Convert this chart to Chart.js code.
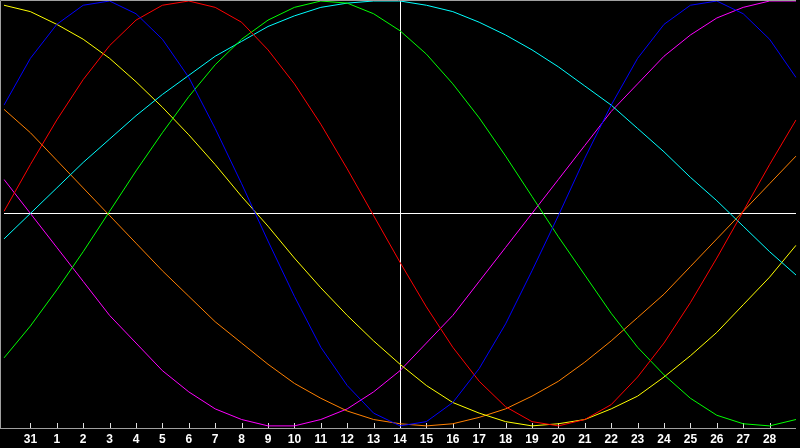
<!DOCTYPE html>
<html>
<head>
<meta charset="utf-8">
<script src="https://cdn.jsdelivr.net/npm/chart.js@4/dist/chart.umd.min.js"></script>
<style>
  html, body { margin: 0; padding: 0; background: #000; overflow: hidden; }
  #wrap { width: 800px; height: 448px; position: relative; }
</style>
</head>
<body>
<div id="wrap"><canvas id="graph"></canvas></div>
<script>
// days shown, from the 30th of last month to the 29th
const days = ['30','31','1','2','3','4','5','6','7','8','9','10','11','12','13','14',
              '15','16','17','18','19','20','21','22','23','24','25','26','27','28','29'];
const today = '14';

// values in percent
const physical     = [51,73,89,98,100,94,82,64,40,14,-13,-39,-63,-81,-94,-100,-98,-89,-73,-52,-27,-1,26,51,73,89,98,100,94,82,64];
const emotional    = [1,23,44,63,79,91,98,100,97,90,77,61,42,21,-1,-23,-44,-63,-79,-91,-98,-100,-97,-90,-77,-61,-42,-21,1,23,44];
const intellectual = [-68,-53,-36,-18,1,20,38,55,70,82,91,97,100,99,94,86,75,61,45,27,8,-11,-29,-47,-63,-76,-87,-95,-99,-100,-97];
const spiritual    = [-12,0,12,24,35,46,56,65,74,81,88,93,97,99,100,100,98,95,90,84,77,69,60,51,40,29,17,6,-6,-18,-29];
const aesthetic    = [98,95,89,82,73,62,50,37,23,8,-6,-21,-35,-48,-60,-71,-81,-89,-94,-98,-100,-99,-97,-92,-86,-77,-67,-56,-43,-30,-15];
const awareness    = [49,38,25,12,-1,-14,-27,-39,-51,-61,-71,-80,-87,-93,-97,-99,-100,-99,-96,-92,-86,-79,-70,-60,-49,-38,-25,-12,1,14,27];
const intuitive    = [16,0,-16,-32,-48,-61,-74,-84,-92,-97,-100,-100,-97,-92,-84,-74,-61,-48,-32,-16,0,16,32,48,61,74,84,92,97,100,100];

function line(label, data, color) {
    return {
        label: label,
        data: data,
        borderColor: color,
        borderWidth: 1,
        pointRadius: 0,
        tension: 0,
        fill: false
    };
}

// frame, zero line, today line and the small inner ticks
const guides = {
    id: 'guides',
    beforeDatasetsDraw(chart) {
        const ctx = chart.ctx;
        const area = chart.chartArea;
        const x = chart.scales.x;
        const y = chart.scales.y;
        ctx.save();
        ctx.lineWidth = 1;

        ctx.strokeStyle = '#a0a0a0';
        ctx.beginPath();
        ctx.moveTo(0.5, area.bottom + 0.5);
        ctx.lineTo(0.5, 0.5);
        ctx.lineTo(area.right, 0.5);
        ctx.moveTo(0, area.bottom + 0.5);
        ctx.lineTo(area.right, area.bottom + 0.5);
        ctx.stroke();

        ctx.strokeStyle = '#e0e0e0';
        ctx.beginPath();
        for (let i = 1; i < days.length - 1; i++) {
            const px = Math.round(x.getPixelForValue(i)) + 0.5;
            ctx.moveTo(px, area.bottom - 5);
            ctx.lineTo(px, area.bottom);
        }
        ctx.stroke();

        ctx.strokeStyle = '#ffffff';
        ctx.beginPath();
        const zy = Math.round(y.getPixelForValue(0)) + 0.5;
        ctx.moveTo(area.left, zy);
        ctx.lineTo(area.right, zy);
        const tx = Math.round(x.getPixelForValue(days.indexOf(today))) + 0.5;
        ctx.moveTo(tx, area.top);
        ctx.lineTo(tx, area.bottom);
        ctx.stroke();
        ctx.restore();
    }
};

const graph = document.getElementById('graph').getContext('2d');

new Chart(graph, {
    type: 'line',
    data: {
        labels: days,
        datasets: [
            line('Physical', physical, '#0000ff'),
            line('Emotional', emotional, '#ff0000'),
            line('Intellectual', intellectual, '#00ff00'),
            line('Spiritual', spiritual, '#00ffff'),
            line('Aesthetic', aesthetic, '#ffff00'),
            line('Awareness', awareness, '#ff8000'),
            line('Intuitive', intuitive, '#ff00ff')
        ]
    },
    options: {
        responsive: true,
        maintainAspectRatio: false,
        animation: false,
        devicePixelRatio: 1,
        layout: { padding: { left: 0, right: 0, top: 1, bottom: 0 } },
        plugins: { legend: { display: false }, tooltip: { enabled: false } },
        scales: {
            x: {
                offset: false,
                grid: { display: false, drawTicks: false },
                border: { display: false },
                afterFit: function (scale) { scale.height = 20; },
                ticks: {
                    autoSkip: false,
                    maxRotation: 0,
                    padding: 4,
                    color: '#ffffff',
                    font: { family: 'Liberation Sans', size: 12, weight: 'bold' },
                    callback: function (value, index) {
                        if (index == 0 || index == days.length - 1) return '';
                        return days[index];
                    }
                }
            },
            y: {
                display: false,
                min: -101,
                max: 100
            }
        }
    },
    plugins: [guides]
});
</script>
</body>
</html>
